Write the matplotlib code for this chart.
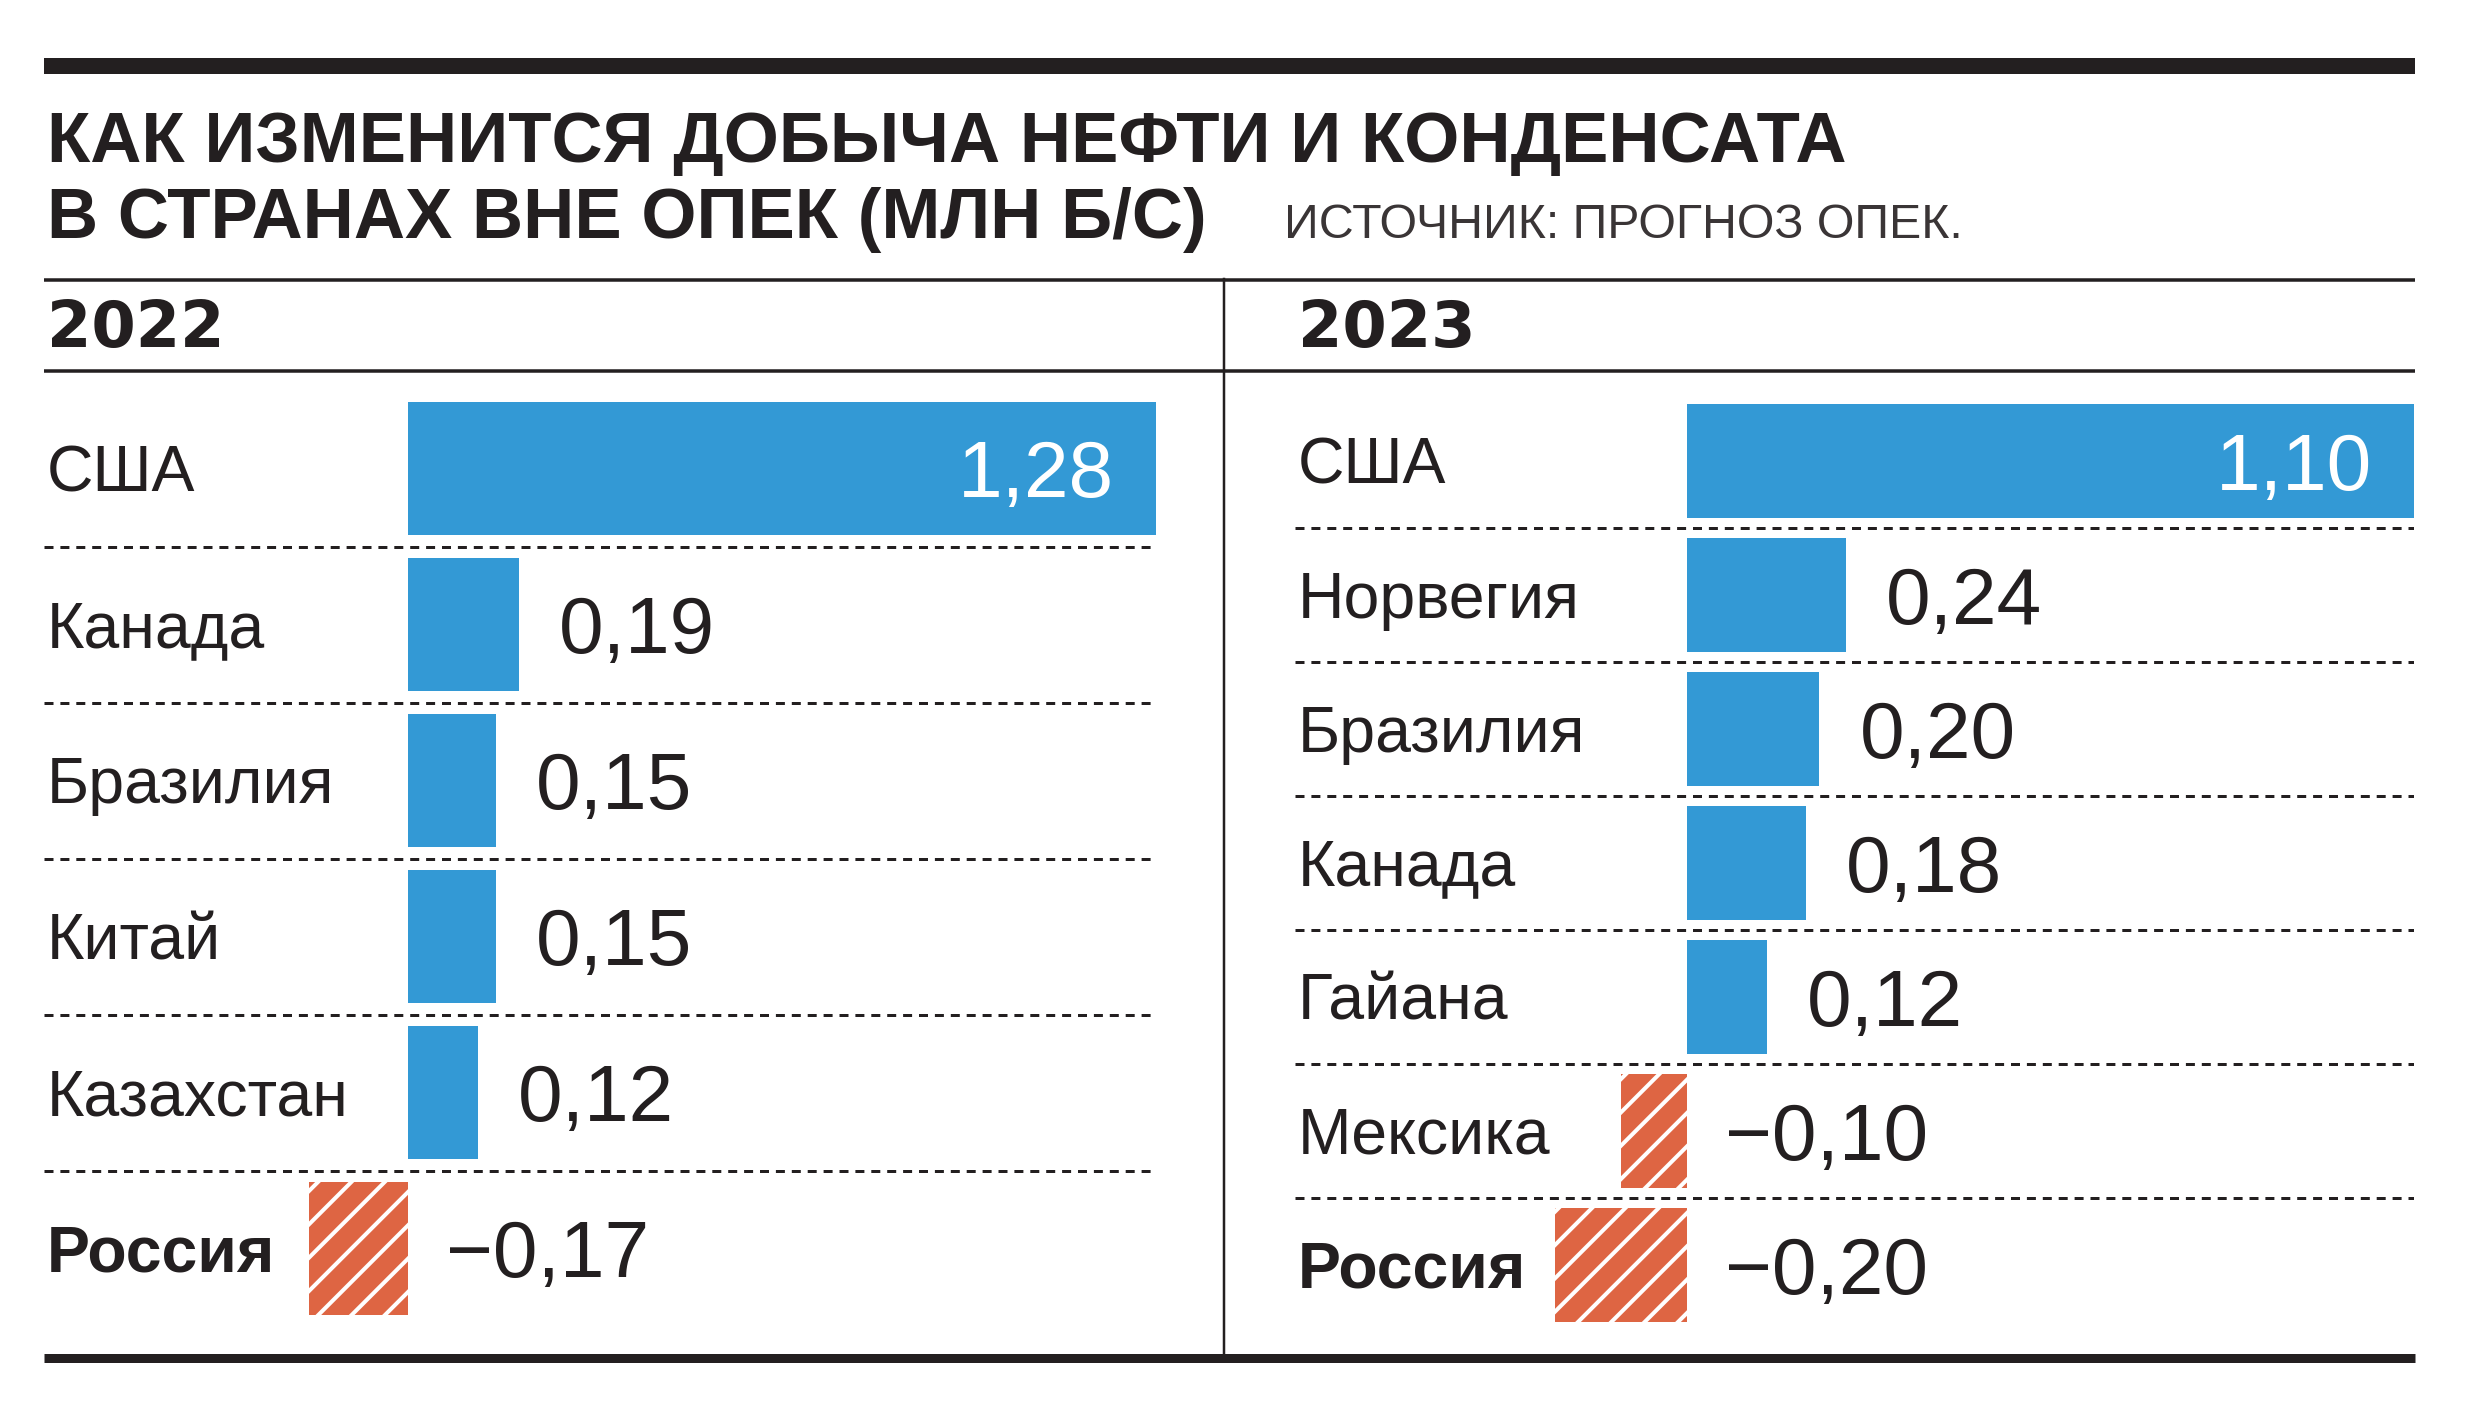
import matplotlib
matplotlib.use("Agg")
import matplotlib.pyplot as plt
from matplotlib.lines import Line2D

plt.rcParams["font.family"] = ["Liberation Sans", "DejaVu Sans"]
plt.rcParams["hatch.linewidth"] = 1.45

# Data (млн б/с)
countries_2022 = ["США", "Канада", "Бразилия", "Китай", "Казахстан", "Россия"]
values_2022 = [1.28, 0.19, 0.15, 0.15, 0.12, -0.17]

countries_2023 = ["США", "Норвегия", "Бразилия", "Канада", "Гайана", "Мексика", "Россия"]
values_2023 = [1.10, 0.24, 0.20, 0.18, 0.12, -0.10, -0.20]

title_lines = ["КАК ИЗМЕНИТСЯ ДОБЫЧА НЕФТИ И КОНДЕНСАТА",
               "В СТРАНАХ ВНЕ ОПЕК (МЛН Б/С)"]
source = "ИСТОЧНИК: ПРОГНОЗ ОПЕК."
years = ["2022", "2023"]

INK = "#231f20"
BLUE = "#3399d5"
RED = "#de6543"

W, H = 2480, 1416
DPI = 200
PT = 72 / DPI  # points per pixel

fig = plt.figure(figsize=(W / DPI, H / DPI), dpi=DPI)
fig.patch.set_facecolor("white")


def fx(x):
    return x / W


def fy(y):
    return 1 - y / H


def hline(y, x0, x1, lw_px, ls="-"):
    fig.add_artist(Line2D([fx(x0), fx(x1)], [fy(y), fy(y)], color=INK,
                          lw=lw_px * PT, solid_capstyle="butt", ls=ls))


# frame lines
hline(66, 44, 2415, 16)
hline(279.5, 44, 2415, 3.5)
hline(370.5, 44, 2415, 3.5)
hline(1357.5, 44, 2415, 9)
fig.add_artist(Line2D([fx(1224), fx(1224)], [fy(279), fy(1357)], color=INK,
                      lw=2.5 * PT))

# title
fig.text(fx(47), fy(162), title_lines[0], fontsize=25.5, fontweight="bold",
         color=INK, va="baseline")
fig.text(fx(47), fy(238), title_lines[1], fontsize=25.5, fontweight="bold",
         color=INK, va="baseline")
fig.text(fx(1284), fy(238), source, fontsize=17.4, color="#3a3536",
         va="baseline")

# year headers
for yr, x in zip(years, [47, 1298]):
    fig.text(fx(x), fy(347), yr, fontsize=23, fontweight="bold",
             family="DejaVu Sans", color=INK, va="baseline")


def panel(rect_px, xlim, names, vals):
    x0, y0, x1, y1 = rect_px
    ax = fig.add_axes([fx(x0), fy(y1), (x1 - x0) / W, (y1 - y0) / H])
    ax.set_facecolor("none")
    n = len(names)
    pos = list(range(n))
    colors = [BLUE if v > 0 else RED for v in vals]
    bars = ax.barh(pos, vals, height=0.853, color=colors, linewidth=0)
    for b, v in zip(bars, vals):
        if v < 0:
            b.set_hatch("//")
            b.set_edgecolor("white")
            b.set_linewidth(0)

    for i in range(n - 1):
        ax.axhline(i + 0.5, color=INK, lw=3 * PT, ls=(0, (3, 2.3)))

    for i, (name, v) in enumerate(zip(names, vals)):
        ax.annotate(name, xy=(0, i), xycoords=("axes fraction", "data"),
                    xytext=(3 * PT, -22.5 * PT), textcoords="offset points",
                    fontsize=23.2, color=INK, va="baseline", ha="left",
                    fontweight="bold" if name == "Россия" else "normal")
        label = f"{abs(v):.2f}".replace(".", ",")
        if v < 0:
            label = "−" + label
            ax.annotate(label, xy=(0, i), xytext=(38 * PT, -28.7 * PT),
                        textcoords="offset points", fontsize=28.9,
                        color=INK, va="baseline", ha="left")
        elif v > 0.5:
            ax.annotate(label, xy=(v, i), xytext=(-42 * PT, -28.7 * PT),
                        textcoords="offset points", fontsize=28.9,
                        color="white", va="baseline", ha="right")
        else:
            ax.annotate(label, xy=(v, i), xytext=(40 * PT, -28.7 * PT),
                        textcoords="offset points", fontsize=28.9,
                        color=INK, va="baseline", ha="left")

    ax.set_xlim(*xlim)
    ax.set_ylim(n - 0.5, -0.5)
    ax.axis("off")
    return ax


panel((44, 390.5, 1156, 1326.5), (-0.623, 1.28), countries_2022, values_2022)
panel((1295, 394, 2414, 1332), (-0.594, 1.10), countries_2023, values_2023)

fig.savefig("out.png", dpi=DPI, facecolor="white")
